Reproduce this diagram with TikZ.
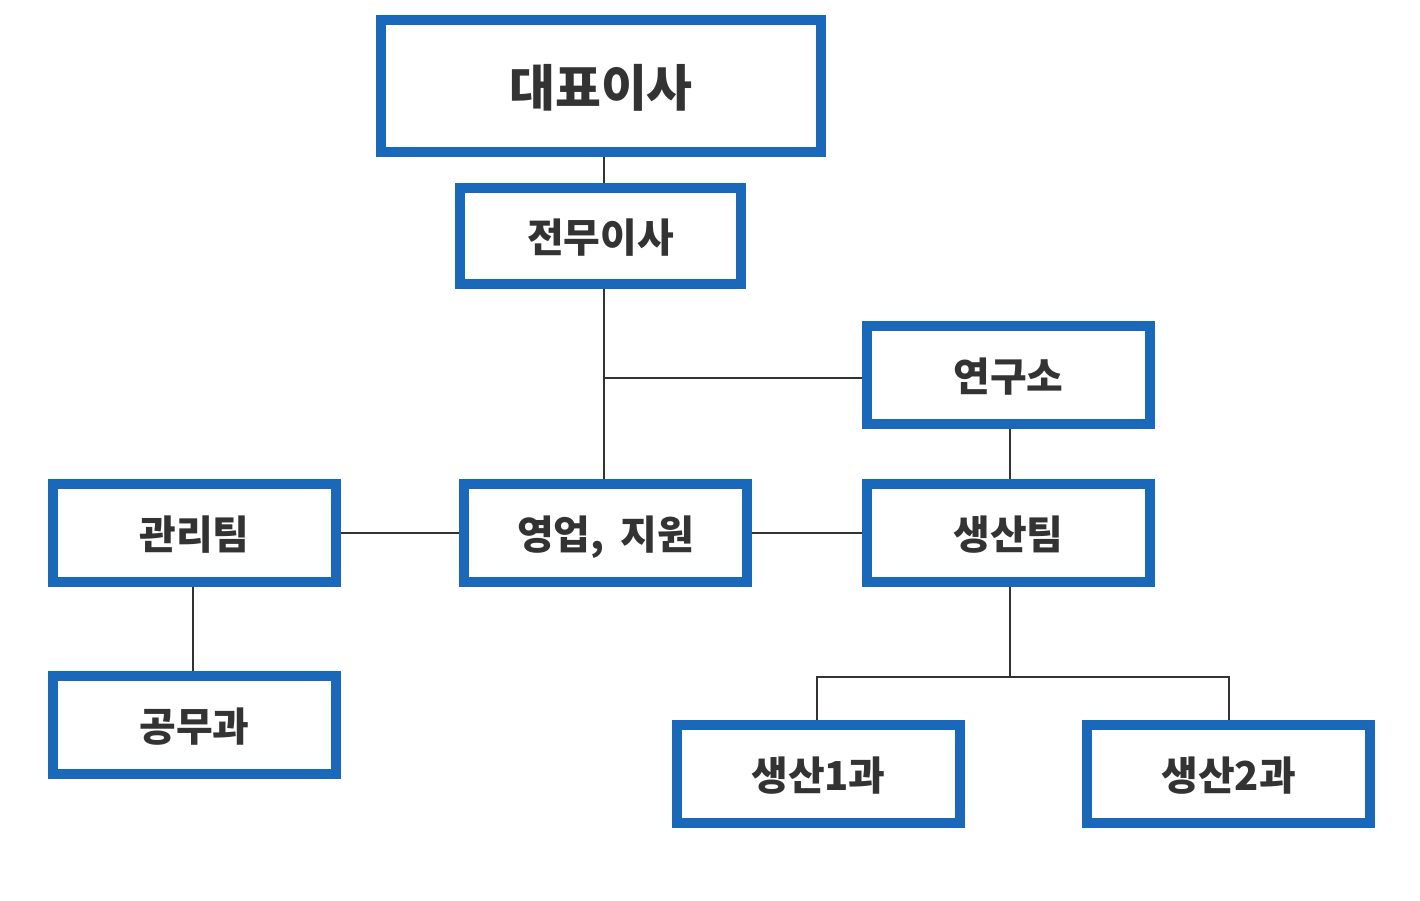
\documentclass[tikz,border=0pt]{standalone}
\usepackage{fontspec}
\newfontfamily\krfont{Noto Sans CJK KR}
\definecolor{boxblue}{RGB}{26,104,186}
\definecolor{ink}{RGB}{51,51,51}
\begin{document}
\begin{tikzpicture}[x=0.02cm,y=-0.02cm,
  unit/.style={draw=boxblue,line width=5.7pt,fill=white,inner sep=0pt,
    minimum width=5.66cm,minimum height=1.96cm,text=ink,
    text height=18.7pt,text depth=0pt,
    font=\krfont\bfseries\fontsize{22.7}{27}\selectfont},
  link/.style={draw=ink,line width=0.85pt}]
\useasboundingbox (0,0) rectangle (1420,900);

\node[unit,minimum width=8.8cm,minimum height=2.64cm,text height=23pt,
  font=\krfont\bfseries\fontsize{28.4}{34}\selectfont] (ceo) at (601,86) {대표이사};
\node[unit,minimum width=5.62cm,minimum height=1.92cm] (exec) at (600.5,236) {전무이사};
\node[unit] (lab) at (1008.5,375) {연구소};
\node[unit] (admin) at (194.5,533) {관리팀};
\node[unit] (sales) at (605.5,533) {영업,\, 지원};
\node[unit] (prod) at (1008.5,533) {생산팀};
\node[unit] (works) at (194.5,725) {공무과};
\node[unit] (prod1) at (818.5,774) {생산1과};
\node[unit] (prod2) at (1228.5,774) {생산2과};

\coordinate (hub) at (604,378);
\coordinate (fork) at (1010,677);

\draw[link] (ceo.south -| hub) -- (exec.north -| hub);
\draw[link] (exec.south -| hub) -- (sales.north -| hub);
\draw[link] (hub) -- (lab.west |- hub);
\draw[link] (admin) -- (sales);
\draw[link] (sales) -- (prod);
\draw[link] (admin.south -| 193,0) -- (works.north -| 193,0);
\draw[link] (lab.south -| fork) -- (prod.north -| fork);
\draw[link] (prod.south -| fork) -- (fork);
\draw[link] (prod1.north -| 817,0) |- (fork) -| (prod2.north -| 1229,0);
\end{tikzpicture}
\end{document}
